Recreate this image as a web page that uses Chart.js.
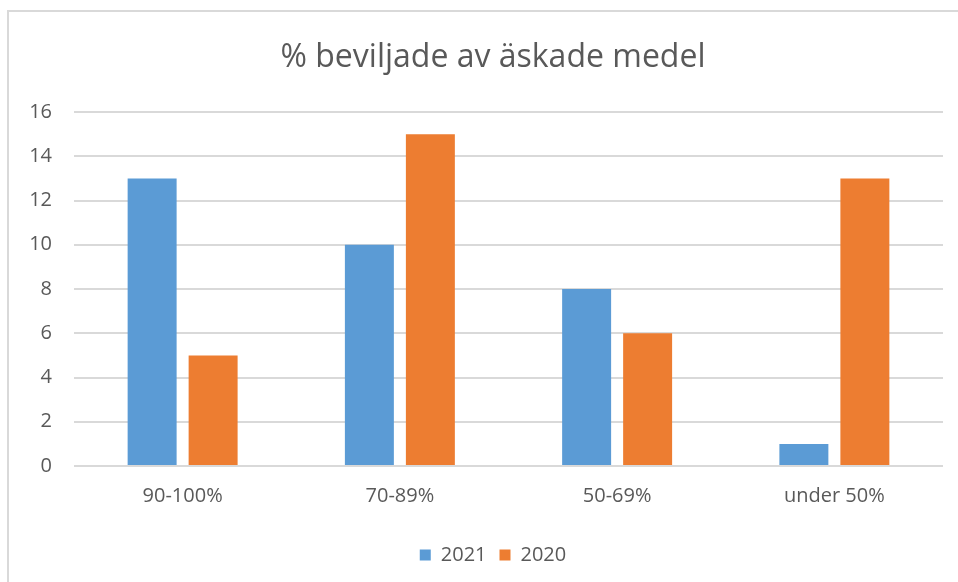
<!DOCTYPE html>
<html>
<head>
<meta charset="utf-8">
<script src="https://cdn.jsdelivr.net/npm/chart.js@4/dist/chart.umd.min.js"></script>
<style>
  html, body { margin: 0; padding: 0; background: #ffffff; overflow: hidden; width: 958px; height: 582px; }
  #frame { position: absolute; left: 7px; top: 10px; width: 1000px; height: 1000px; border: 2px solid #d9d9d9; box-sizing: border-box; pointer-events: none; }
  #wrap { position: absolute; left: 0; top: 0; width: 986px; height: 582px; }
</style>
</head>
<body>
<div id="wrap"><canvas id="c" width="986" height="582"></canvas></div>
<div id="frame"></div>
<script>
const categories = ["90-100%", "70-89%", "50-69%", "under 50%"];
const series2021 = [13, 10, 8, 1];
const series2020 = [5, 15, 6, 13];
const seriesNames = ["2021", "2020"];
const titleText = "% beviljade av äskade medel";

const FONT = "'Open Sans', sans-serif";
const TEXT = "#595959";

new Chart(document.getElementById("c"), {
  type: "bar",
  data: {
    labels: categories,
    datasets: [
      { label: seriesNames[0], data: series2021, backgroundColor: "#5B9BD5", borderWidth: 0,
        categoryPercentage: 0.5615, barPercentage: 0.803 },
      { label: seriesNames[1], data: series2020, backgroundColor: "#ED7D31", borderWidth: 0,
        categoryPercentage: 0.5615, barPercentage: 0.803 }
    ]
  },
  options: {
    responsive: false,
    animation: false,
    devicePixelRatio: 1,
    layout: { padding: { top: 39, left: 0, right: 0, bottom: 7 } },
    plugins: {
      title: {
        display: true,
        text: titleText,
        color: TEXT,
        font: { family: FONT, size: 32, weight: "normal", lineHeight: 1.2 },
        padding: { top: 0, bottom: 34.6 }
      },
      legend: {
        position: "bottom",
        labels: {
          color: TEXT,
          font: { family: FONT, size: 20 },
          boxWidth: 11,
          boxHeight: 11,
          padding: 13
        }
      },
      tooltip: { enabled: false }
    },
    scales: {
      x: {
        grid: { display: false, drawTicks: false },
        border: { display: false },
        ticks: { color: TEXT, font: { family: FONT, size: 20 }, padding: 18, maxRotation: 0 },
        afterFit: (s) => { s.height = 66; }
      },
      y: {
        min: 0, max: 16,
        grid: { color: "#d9d9d9", lineWidth: 2, drawTicks: false },
        border: { display: false },
        ticks: { stepSize: 2, color: TEXT, font: { family: FONT, size: 20 }, padding: 22 },
        afterFit: (s) => { s.width = 74; }
      },
      yRightSpace: {
        type: "linear",
        position: "right",
        display: true,
        grid: { display: false, drawTicks: false },
        border: { display: false },
        ticks: { display: false },
        afterFit: (s) => { s.width = 43; }
      }
    }
  }
});
</script>
</body>
</html>
